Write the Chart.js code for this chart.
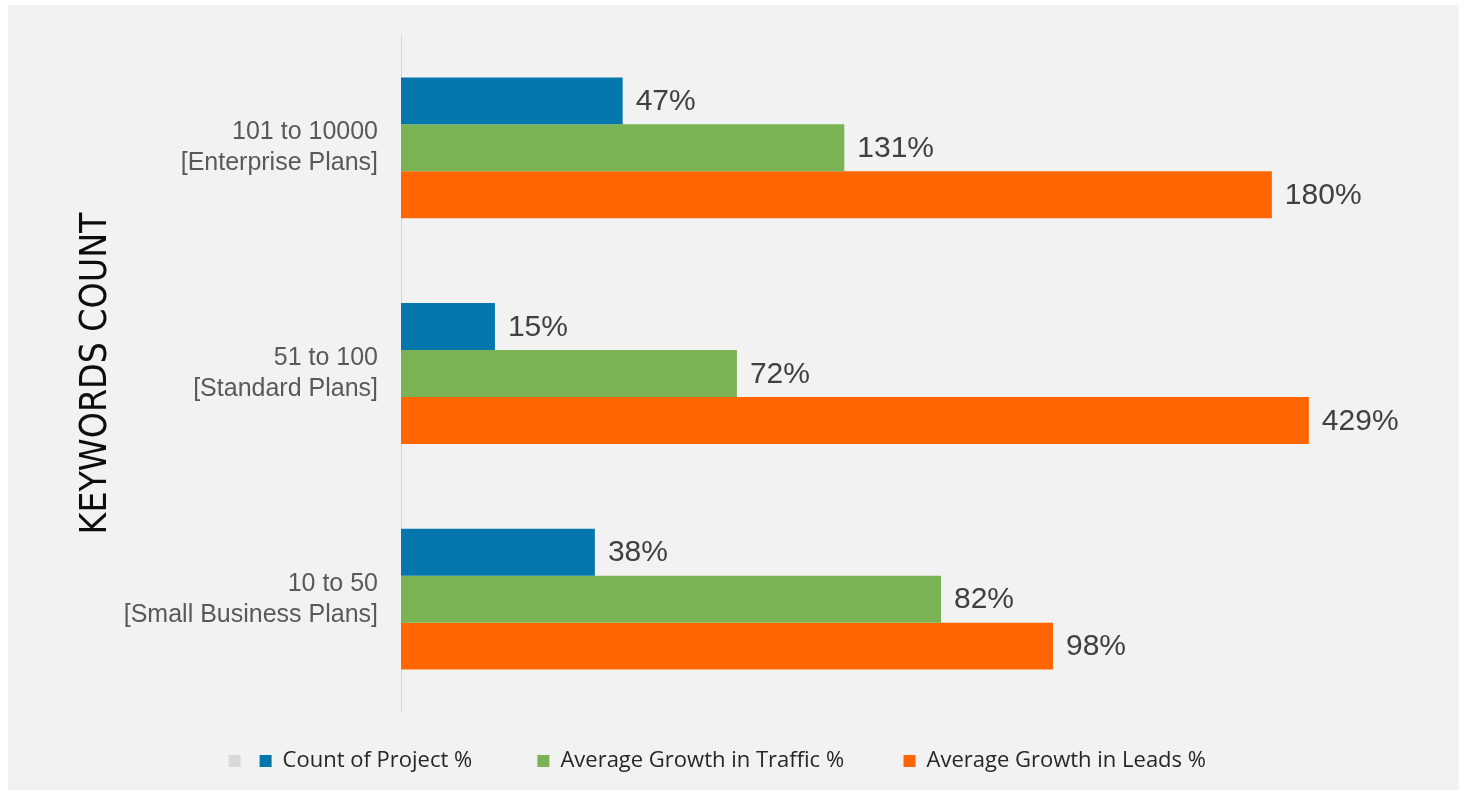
<!DOCTYPE html>
<html>
<head>
<meta charset="utf-8">
<script src="https://cdn.jsdelivr.net/npm/chart.js@4/dist/chart.umd.min.js"></script>
<style>
  html, body { margin: 0; padding: 0; background: #ffffff; }
  #wrap { width: 1469px; height: 793px; position: relative; }
</style>
</head>
<body>
<div id="wrap"><canvas id="kwChart"></canvas></div>
<script>
// --- data ---
const categories = [
  ['101 to 10000', '[Enterprise Plans]'],
  ['51 to 100', '[Standard Plans]'],
  ['10 to 50', '[Small Business Plans]']
];
const seriesNames = ['Count of Project %', 'Average Growth in Traffic %', 'Average Growth in Leads %'];

// bar lengths as drawn (hidden axis units, 0..220) - the source bars are not to scale with their labels
const countBars   = [47.9, 20.3, 41.9];
const trafficBars = [95.8, 72.6, 116.7];
const leadsBars   = [188.2, 196.2, 140.9];

// printed value labels
const countLabels   = ['47%', '15%', '38%'];
const trafficLabels = ['131%', '72%', '82%'];
const leadsLabels   = ['180%', '429%', '98%'];

const colors = ['#0577AC', '#79B354', '#FF6600'];
const blankLegendColor = '#d9d9d9';

const barLabels = [countLabels, trafficLabels, leadsLabels];

// grey panel behind everything
const panelBg = {
  id: 'panelBg',
  beforeDraw(chart) {
    const ctx = chart.ctx;
    ctx.save();
    ctx.fillStyle = '#ffffff';
    ctx.fillRect(0, 0, chart.width, chart.height);
    ctx.fillStyle = '#f2f2f2';
    ctx.fillRect(8, 5, 1451, 785);
    ctx.restore();
  }
};

// value labels at the end of each bar
const valueLabels = {
  id: 'valueLabels',
  afterDatasetsDraw(chart) {
    const ctx = chart.ctx;
    ctx.save();
    ctx.font = '30px "Liberation Sans", Arial, sans-serif';
    ctx.fillStyle = '#404040';
    ctx.textAlign = 'left';
    ctx.textBaseline = 'middle';
    chart.data.datasets.forEach((ds, i) => {
      chart.getDatasetMeta(i).data.forEach((bar, j) => {
        ctx.fillText(barLabels[i][j], bar.x + 13, bar.y + 1);
      });
    });
    ctx.restore();
  }
};

// spacing after each legend text (non-breaking spaces)
const legendGaps = [10, 9, 9];

new Chart(document.getElementById('kwChart'), {
  type: 'bar',
  data: {
    labels: categories,
    datasets: [
      { label: seriesNames[0], data: countBars,   backgroundColor: colors[0] },
      { label: seriesNames[1], data: trafficBars, backgroundColor: colors[1] },
      { label: seriesNames[2], data: leadsBars,   backgroundColor: colors[2] }
    ]
  },
  options: {
    indexAxis: 'y',
    responsive: true,
    maintainAspectRatio: false,
    animation: false,
    categoryPercentage: 0.624,
    barPercentage: 1,
    layout: { padding: { left: 67, right: 50, top: 35, bottom: 11 } },
    scales: {
      x: {
        display: true,
        min: 0,
        max: 220,
        grid: { display: false, drawTicks: false },
        border: { display: false },
        ticks: { display: false },
        afterFit(s) { s.height = 30; }
      },
      y: {
        grid: { display: false, drawTicks: false },
        border: { display: true, color: '#d6d6d6', width: 1 },
        ticks: {
          color: '#595959',
          padding: 23,
          font: { family: '"Liberation Sans", Arial, sans-serif', size: 25, lineHeight: 1.24 }
        },
        title: {
          display: true,
          text: 'KEYWORDS COUNT',
          color: '#0d0d0d',
          padding: { top: 7, bottom: 0 },
          font: { family: '"DejaVu Sans Condensed", "Liberation Sans", sans-serif', size: 37, lineHeight: 1.2 }
        },
        afterFit(s) {
          s.width = 401 - 67;
          s.paddingTop = 0;
          s.paddingBottom = 0;
        }
      }
    },
    plugins: {
      tooltip: { enabled: false },
      legend: {
        position: 'bottom',
        labels: {
          color: '#262626',
          boxWidth: 12,
          boxHeight: 12,
          padding: 8,
          font: { family: '"Open Sans", sans-serif', size: 22 },
          generateLabels(chart) {
            const items = Chart.defaults.plugins.legend.labels.generateLabels(chart);
            items.forEach((it, k) => {
              it.lineWidth = 0;
              it.text = it.text + '\u00a0'.repeat(legendGaps[k]);
            });
            items.unshift({ text: '', fillStyle: blankLegendColor, strokeStyle: blankLegendColor, lineWidth: 0, hidden: false, datasetIndex: -1 });
            return items;
          }
        }
      }
    }
  },
  plugins: [panelBg, valueLabels]
});
</script>
</body>
</html>
